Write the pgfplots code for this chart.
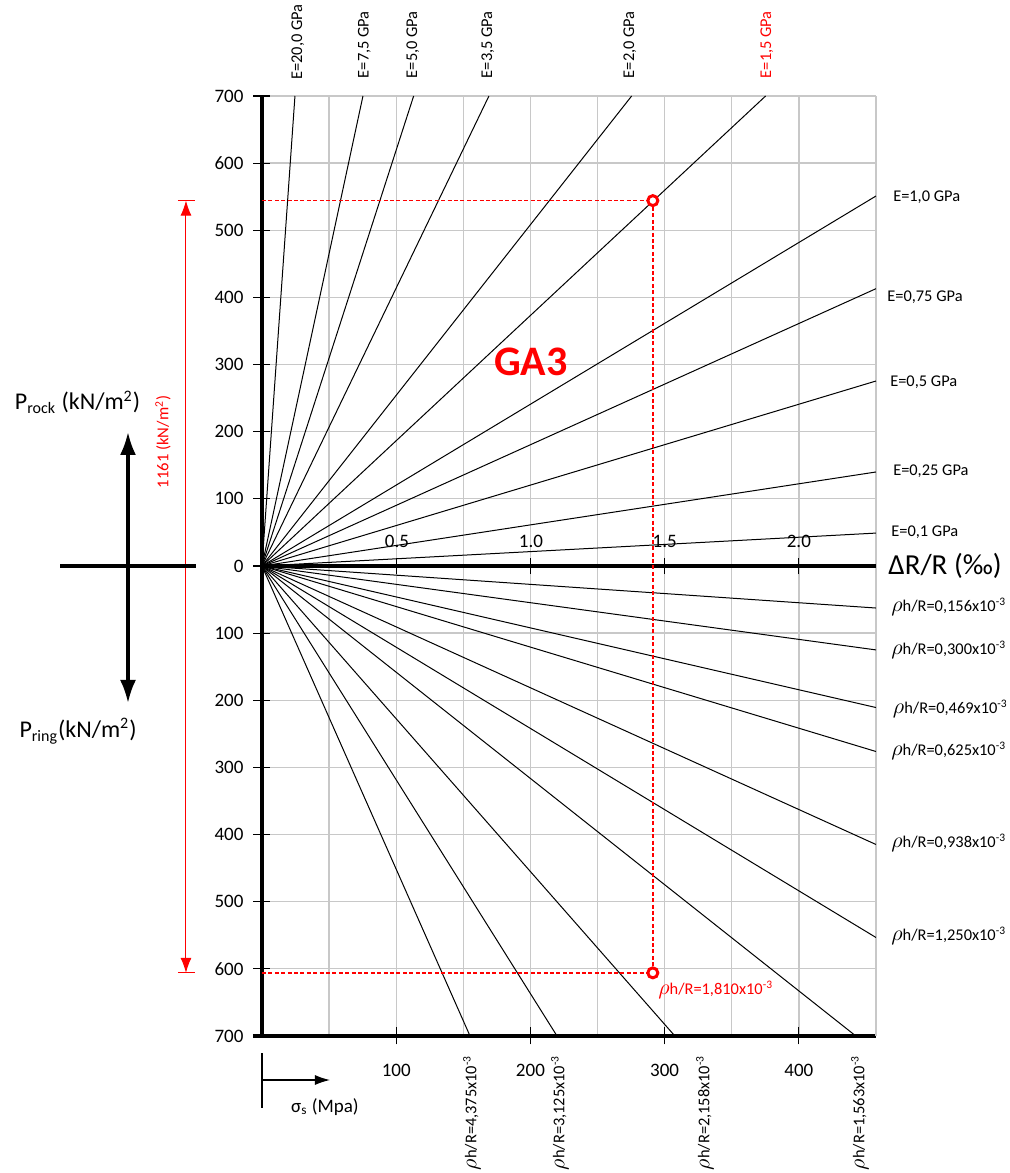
\documentclass[border=0pt]{standalone}
\usepackage{fontspec}
\setmainfont{Carlito}
\usepackage{pgfplots}
\pgfplotsset{compat=1.18}
\usetikzlibrary{arrows.meta}
\definecolor{gridgray}{RGB}{200,200,200}
\newcommand{\lab}{\fontsize{8.2}{10}\selectfont}
\newcommand{\rh}{{\fontsize{10.5}{10}\selectfont$\rho$}h/R=}
\tikzset{lbl/.style={inner sep=0pt, font=\lab}}
\begin{document}
\begin{tikzpicture}
\begin{axis}[
  scale only axis, width=307pt, height=470pt,
  xmin=0, xmax=2.287, ymin=-700, ymax=700,
  axis lines=left,
  axis line style={-, line width=1.75pt},
  x axis line style={shorten <=-4.5pt},
  clip=false,
  xtick={0.5,1,1.5,2}, xticklabels={100,200,300,400},
  minor xtick={0.25,0.75,1.25,1.75},
  ytick={-700,-600,...,700},
  yticklabels={700,600,500,400,300,200,100,0,100,200,300,400,500,600,700},
  tick align=center, major tick length=8.5pt, minor tick length=0pt,
  tick style={black, line width=0.6pt},
  grid=both,
  major grid style={gridgray, line width=0.65pt},
  minor grid style={gridgray, line width=0.65pt},
  ticklabel style={font=\fontsize{9.5}{11}\selectfont},
  xticklabel style={yshift=-6.5pt},
  yticklabel style={xshift=-1.5pt},
  /pgf/number format/assume math mode=true,
]
% right border
\draw[gridgray, line width=0.65pt] (axis cs:2.287,-700) -- (axis cs:2.287,700);
% upper lines (E)
\addplot[black, line width=0.5pt] coordinates {(0,0) (0.1229,700)};
\addplot[black, line width=0.5pt] coordinates {(0,0) (0.3762,700)};
\addplot[black, line width=0.5pt] coordinates {(0,0) (0.5650,700)};
\addplot[black, line width=0.5pt] coordinates {(0,0) (0.8454,700)};
\addplot[black, line width=0.5pt] coordinates {(0,0) (1.3770,700)};
\addplot[black, line width=0.5pt] coordinates {(0,0) (1.8760,700)};
\addplot[black, line width=0.5pt] coordinates {(0,0) (2.287,551)};
\addplot[black, line width=0.5pt] coordinates {(0,0) (2.287,413)};
\addplot[black, line width=0.5pt] coordinates {(0,0) (2.287,275.5)};
\addplot[black, line width=0.5pt] coordinates {(0,0) (2.287,140)};
\addplot[black, line width=0.5pt] coordinates {(0,0) (2.287,49)};
% lower lines (rho h/R)
\addplot[black, line width=0.5pt] coordinates {(0,0) (2.287,-62.6)};
\addplot[black, line width=0.5pt] coordinates {(0,0) (2.287,-125)};
\addplot[black, line width=0.5pt] coordinates {(0,0) (2.287,-210.8)};
\addplot[black, line width=0.5pt] coordinates {(0,0) (2.287,-276.3)};
\addplot[black, line width=0.5pt] coordinates {(0,0) (2.287,-414.8)};
\addplot[black, line width=0.5pt] coordinates {(0,0) (2.287,-553.3)};
\addplot[black, line width=0.5pt] coordinates {(0,0) (2.212,-700)};
\addplot[black, line width=0.5pt] coordinates {(0,0) (1.538,-700)};
\addplot[black, line width=0.5pt] coordinates {(0,0) (1.099,-700)};
\addplot[black, line width=0.5pt] coordinates {(0,0) (0.775,-700)};
% zero axis
\draw[line width=1.75pt] (axis cs:0,0) -- (axis cs:2.287,0);
\draw[line width=0.6pt] (axis cs:0.5,-12) -- (axis cs:0.5,12);
\draw[line width=0.6pt] (axis cs:1,-12) -- (axis cs:1,12);
\draw[line width=0.6pt] (axis cs:1.5,-12) -- (axis cs:1.5,12);
\draw[line width=0.6pt] (axis cs:2,-12) -- (axis cs:2,12);
\node[font=\fontsize{9.5}{11}\selectfont] at (axis cs:0.503,36.5) {0.5};
\node[font=\fontsize{9.5}{11}\selectfont] at (axis cs:1.002,36.5) {1.0};
\node[font=\fontsize{9.5}{11}\selectfont] at (axis cs:1.5,36.5) {1.5};
\node[font=\fontsize{9.5}{11}\selectfont] at (axis cs:2.0,36.5) {2.0};
\node[anchor=west, inner sep=0pt, font=\fontsize{14.5}{16}\selectfont] at (axis cs:2.332,0) {ΔR/R (‰)};
% red construction
\addplot[red, dash pattern=on 2pt off 1.2pt, line width=0.7pt] coordinates {(0,544.2) (1.456,544.2)};
\addplot[red, dash pattern=on 2pt off 1.2pt, line width=0.7pt] coordinates {(1.456,544.2) (1.456,-606)};
\addplot[red, dash pattern=on 2pt off 1.2pt, line width=0.7pt] coordinates {(0,-606) (1.456,-606)};
\addplot[only marks, mark=*, mark size=2.5pt, mark options={draw=red, fill=white, line width=1.5pt}] coordinates {(1.456,544.2) (1.456,-606)};
\draw[red, line width=0.5pt, {Latex[length=7.5pt,width=5.5pt]}-{Latex[length=7.5pt,width=5.5pt]}] (axis cs:-0.283,544.2) -- (axis cs:-0.283,-606);
\draw[red, line width=0.5pt] (axis cs:-0.313,544.2) -- (axis cs:-0.2495,544.2);
\draw[red, line width=0.5pt] (axis cs:-0.313,-606) -- (axis cs:-0.2495,-606);
\node[red, rotate=90, inner sep=0pt, font=\fontsize{8.3}{10}\selectfont] at (axis cs:-0.3687,184.7) {1161 (kN/m\textsuperscript{2})};
\node[red, font=\bfseries\fontsize{21}{24}\selectfont] at (axis cs:1.002,304) {GA3};
\node[red, anchor=west, lbl] at (axis cs:1.475,-631.5) {\rh 1,810x10\textsuperscript{-3}};
% left cross
\draw[line width=1.6pt] (axis cs:-0.752,0) -- (axis cs:-0.2458,0);
\draw[line width=1.6pt, {Latex[length=11.5pt,width=8pt]}-{Latex[length=11.5pt,width=8pt]}] (axis cs:-0.499,199.6) -- (axis cs:-0.499,-204);
\node[font=\fontsize{12}{14}\selectfont] at (axis cs:-0.687,244) {P\textsubscript{rock} (kN/m\textsuperscript{2})};
\node[font=\fontsize{12}{14}\selectfont] at (axis cs:-0.685,-246) {P\textsubscript{ring}(kN/m\textsuperscript{2})};
% sigma_s indicator
\draw[line width=0.6pt] (axis cs:0,-725.4) -- (axis cs:0,-807.3);
\draw[line width=0.6pt, -{Latex[length=7.5pt,width=5pt]}] (axis cs:0,-765.6) -- (axis cs:0.2533,-765.6);
\node[font=\fontsize{9.5}{11}\selectfont] at (axis cs:0.2346,-805.7) {σ\textsubscript{s} (Mpa)};
% top labels
\node[rotate=90, anchor=west, lbl] at (axis cs:0.1341,723.8) {E=20,0 GPa};
\node[rotate=90, anchor=west, lbl] at (axis cs:0.3818,726) {E=7,5 GPa};
\node[rotate=90, anchor=west, lbl] at (axis cs:0.5624,726) {E=5,0 GPa};
\node[rotate=90, anchor=west, lbl] at (axis cs:0.8417,726) {E=3,5 GPa};
\node[rotate=90, anchor=west, lbl] at (axis cs:1.3706,726) {E=2,0 GPa};
\node[rotate=90, anchor=west, lbl, red] at (axis cs:1.8808,726) {E=1,5 GPa};
% right labels
\node[anchor=west, lbl] at (axis cs:2.350,549.6) {E=1,0 GPa};
\node[anchor=west, lbl] at (axis cs:2.328,400.7) {E=0,75 GPa};
\node[anchor=west, lbl] at (axis cs:2.339,274) {E=0,5 GPa};
\node[anchor=west, lbl] at (axis cs:2.350,141.5) {E=0,25 GPa};
\node[anchor=west, lbl] at (axis cs:2.343,50.6) {E=0,1 GPa};
\node[anchor=west, lbl] at (axis cs:2.343,-61) {\rh 0,156x10\textsuperscript{-3}};
\node[anchor=west, lbl] at (axis cs:2.343,-125) {\rh 0,300x10\textsuperscript{-3}};
\node[anchor=west, lbl] at (axis cs:2.349,-213) {\rh 0,469x10\textsuperscript{-3}};
\node[anchor=west, lbl] at (axis cs:2.343,-275.5) {\rh 0,625x10\textsuperscript{-3}};
\node[anchor=west, lbl] at (axis cs:2.343,-412.6) {\rh 0,938x10\textsuperscript{-3}};
\node[anchor=west, lbl] at (axis cs:2.343,-551) {\rh 1,250x10\textsuperscript{-3}};
% bottom labels
\node[rotate=90, anchor=east, lbl] at (axis cs:0.782,-728.3) {\rh 4,375x10\textsuperscript{-3}};
\node[rotate=90, anchor=east, lbl] at (axis cs:1.110,-728.3) {\rh 3,125x10\textsuperscript{-3}};
\node[rotate=90, anchor=east, lbl] at (axis cs:1.650,-728.3) {\rh 2,158x10\textsuperscript{-3}};
\node[rotate=90, anchor=east, lbl] at (axis cs:2.227,-728.3) {\rh 1,563x10\textsuperscript{-3}};
\coordinate (BL) at (axis cs:-0.9758,-904.1);
\coordinate (TR) at (axis cs:2.7858,843.0);
\end{axis}
\pgfresetboundingbox
\path[use as bounding box] (BL) rectangle (TR);
\end{tikzpicture}
\end{document}
